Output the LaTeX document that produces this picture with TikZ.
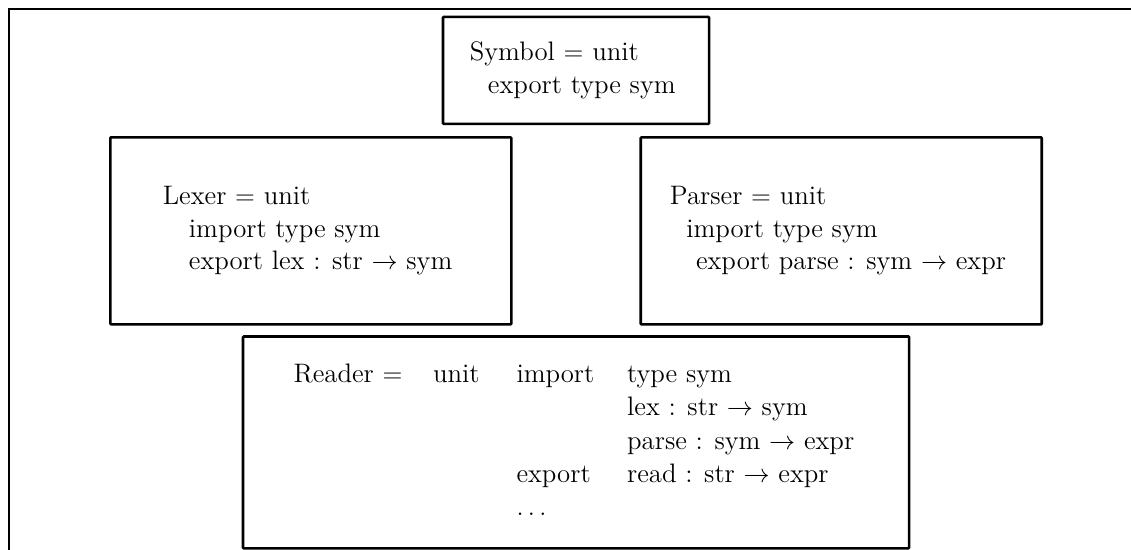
\documentclass[12pt,tikz,border=0pt]{standalone}
\usetikzlibrary{positioning}

\begin{document}
\begin{tikzpicture}[
    modbox/.style={rectangle, draw, line width=1.2pt, rounded corners=0.4pt,
                   align=left, inner sep=0pt, font=\fontsize{12.3}{14.9}\selectfont},
    outerline/.style={draw, line width=1.2pt},
]
\renewcommand{\arraystretch}{1.025}

% page
\useasboundingbox (0,0) rectangle (520.3pt,-253pt);

% outer frame, open to the right and bottom
\draw[outerline] (4.2pt,-260pt) |- (530pt,-4.2pt);

% Symbol unit
\node[modbox, minimum width=122.4pt, minimum height=49.2pt] (sym) at (265pt,-32.4pt)
    {Symbol $=$ unit\\\hspace*{8.3pt}export type sym\kern3pt};

% Lexer and Parser units
\node[modbox, minimum width=184.5pt, minimum height=86pt, below=5pt of sym, xshift=-122pt] (lex)
    {Lexer $=$ unit\\\hspace*{12pt}import type sym\\\hspace*{12pt}export lex : str $\rightarrow$ sym\kern3pt};
\node[modbox, minimum width=184.5pt, minimum height=86pt, below=5pt of sym, xshift=122pt] (par)
    {Parser $=$ unit\\\hspace*{7.5pt}import type sym\\\hspace*{12pt}export parse : sym $\rightarrow$ expr\kern3pt};

% Reader unit
\coordinate (split) at (sym |- lex.south);
\node[modbox, minimum width=306.4pt, minimum height=97.5pt, below=4.4pt of split] (rdr)
    {\begin{tabular}{@{}p{64.2pt}@{}p{38.4pt}@{}p{50.9pt}@{}l@{\kern2pt}}
     Reader $=$ & unit & import & type sym\\
      & & & lex : str $\rightarrow$ sym\\
      & & & parse : sym $\rightarrow$ expr\\
      & & export & read : str $\rightarrow$ expr\\
      & & $\ldots$ &
     \end{tabular}};

\end{tikzpicture}
\end{document}
